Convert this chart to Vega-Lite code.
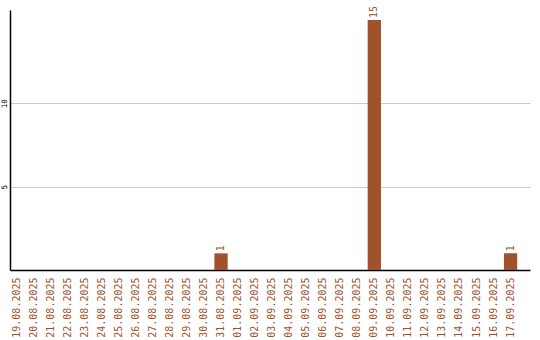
{
  "$schema": "https://vega.github.io/schema/vega-lite/v6.json",
  "width": 520,
  "height": 260,
  "autosize": {"type": "none"},
  "padding": {"left": 10, "top": 10, "right": 10, "bottom": 70},
  "background": "white",
  "config": {"view": {"stroke": null}, "font": "DejaVu Sans Mono"},
  "data": {
    "values": [
      {"date": "19.08.2025", "count": 0},
      {"date": "20.08.2025", "count": 0},
      {"date": "21.08.2025", "count": 0},
      {"date": "22.08.2025", "count": 0},
      {"date": "23.08.2025", "count": 0},
      {"date": "24.08.2025", "count": 0},
      {"date": "25.08.2025", "count": 0},
      {"date": "26.08.2025", "count": 0},
      {"date": "27.08.2025", "count": 0},
      {"date": "28.08.2025", "count": 0},
      {"date": "29.08.2025", "count": 0},
      {"date": "30.08.2025", "count": 0},
      {"date": "31.08.2025", "count": 1},
      {"date": "01.09.2025", "count": 0},
      {"date": "02.09.2025", "count": 0},
      {"date": "03.09.2025", "count": 0},
      {"date": "04.09.2025", "count": 0},
      {"date": "05.09.2025", "count": 0},
      {"date": "06.09.2025", "count": 0},
      {"date": "07.09.2025", "count": 0},
      {"date": "08.09.2025", "count": 0},
      {"date": "09.09.2025", "count": 15},
      {"date": "10.09.2025", "count": 0},
      {"date": "11.09.2025", "count": 0},
      {"date": "12.09.2025", "count": 0},
      {"date": "13.09.2025", "count": 0},
      {"date": "14.09.2025", "count": 0},
      {"date": "15.09.2025", "count": 0},
      {"date": "16.09.2025", "count": 0},
      {"date": "17.09.2025", "count": 1}
    ]
  },
  "encoding": {
    "x": {
      "field": "date",
      "type": "nominal",
      "sort": null,
      "scale": {"paddingInner": 0.22, "paddingOuter": 0.375, "align": 0},
      "axis": {
        "title": null,
        "labelAngle": -90,
        "labelAlign": "right",
        "labelBaseline": "middle",
        "labelFont": "DejaVu Sans Mono",
        "labelFontSize": 10,
        "labelColor": "#a0522d",
        "ticks": false,
        "tickSize": 0,
        "labelPadding": 7,
        "domainColor": "black",
        "domainWidth": 1.5,
        "grid": false
      }
    },
    "y": {
      "field": "count",
      "type": "quantitative",
      "scale": {"domain": [0, 15.6], "nice": false, "zero": true},
      "axis": {
        "title": null,
        "values": [5, 10],
        "labelAngle": -90,
        "labelAlign": "center",
        "labelBaseline": "bottom",
        "labelFont": "DejaVu Sans Mono",
        "labelFontSize": 7.5,
        "labelColor": "black",
        "labelPadding": 2,
        "ticks": false,
        "tickSize": 0,
        "domainColor": "black",
        "domainWidth": 1.5,
        "grid": true,
        "gridColor": "#cccccc",
        "gridWidth": 1
      }
    }
  },
  "layer": [
    {"mark": {"type": "bar", "color": "#a0522d"}},
    {
      "transform": [{"filter": "datum.count > 0"}],
      "mark": {
        "type": "text",
        "angle": -90,
        "align": "left",
        "baseline": "middle",
        "dx": 2,
        "font": "DejaVu Sans Mono",
        "fontSize": 10,
        "color": "#a0522d"
      },
      "encoding": {"text": {"field": "count", "type": "quantitative"}}
    }
  ]
}
